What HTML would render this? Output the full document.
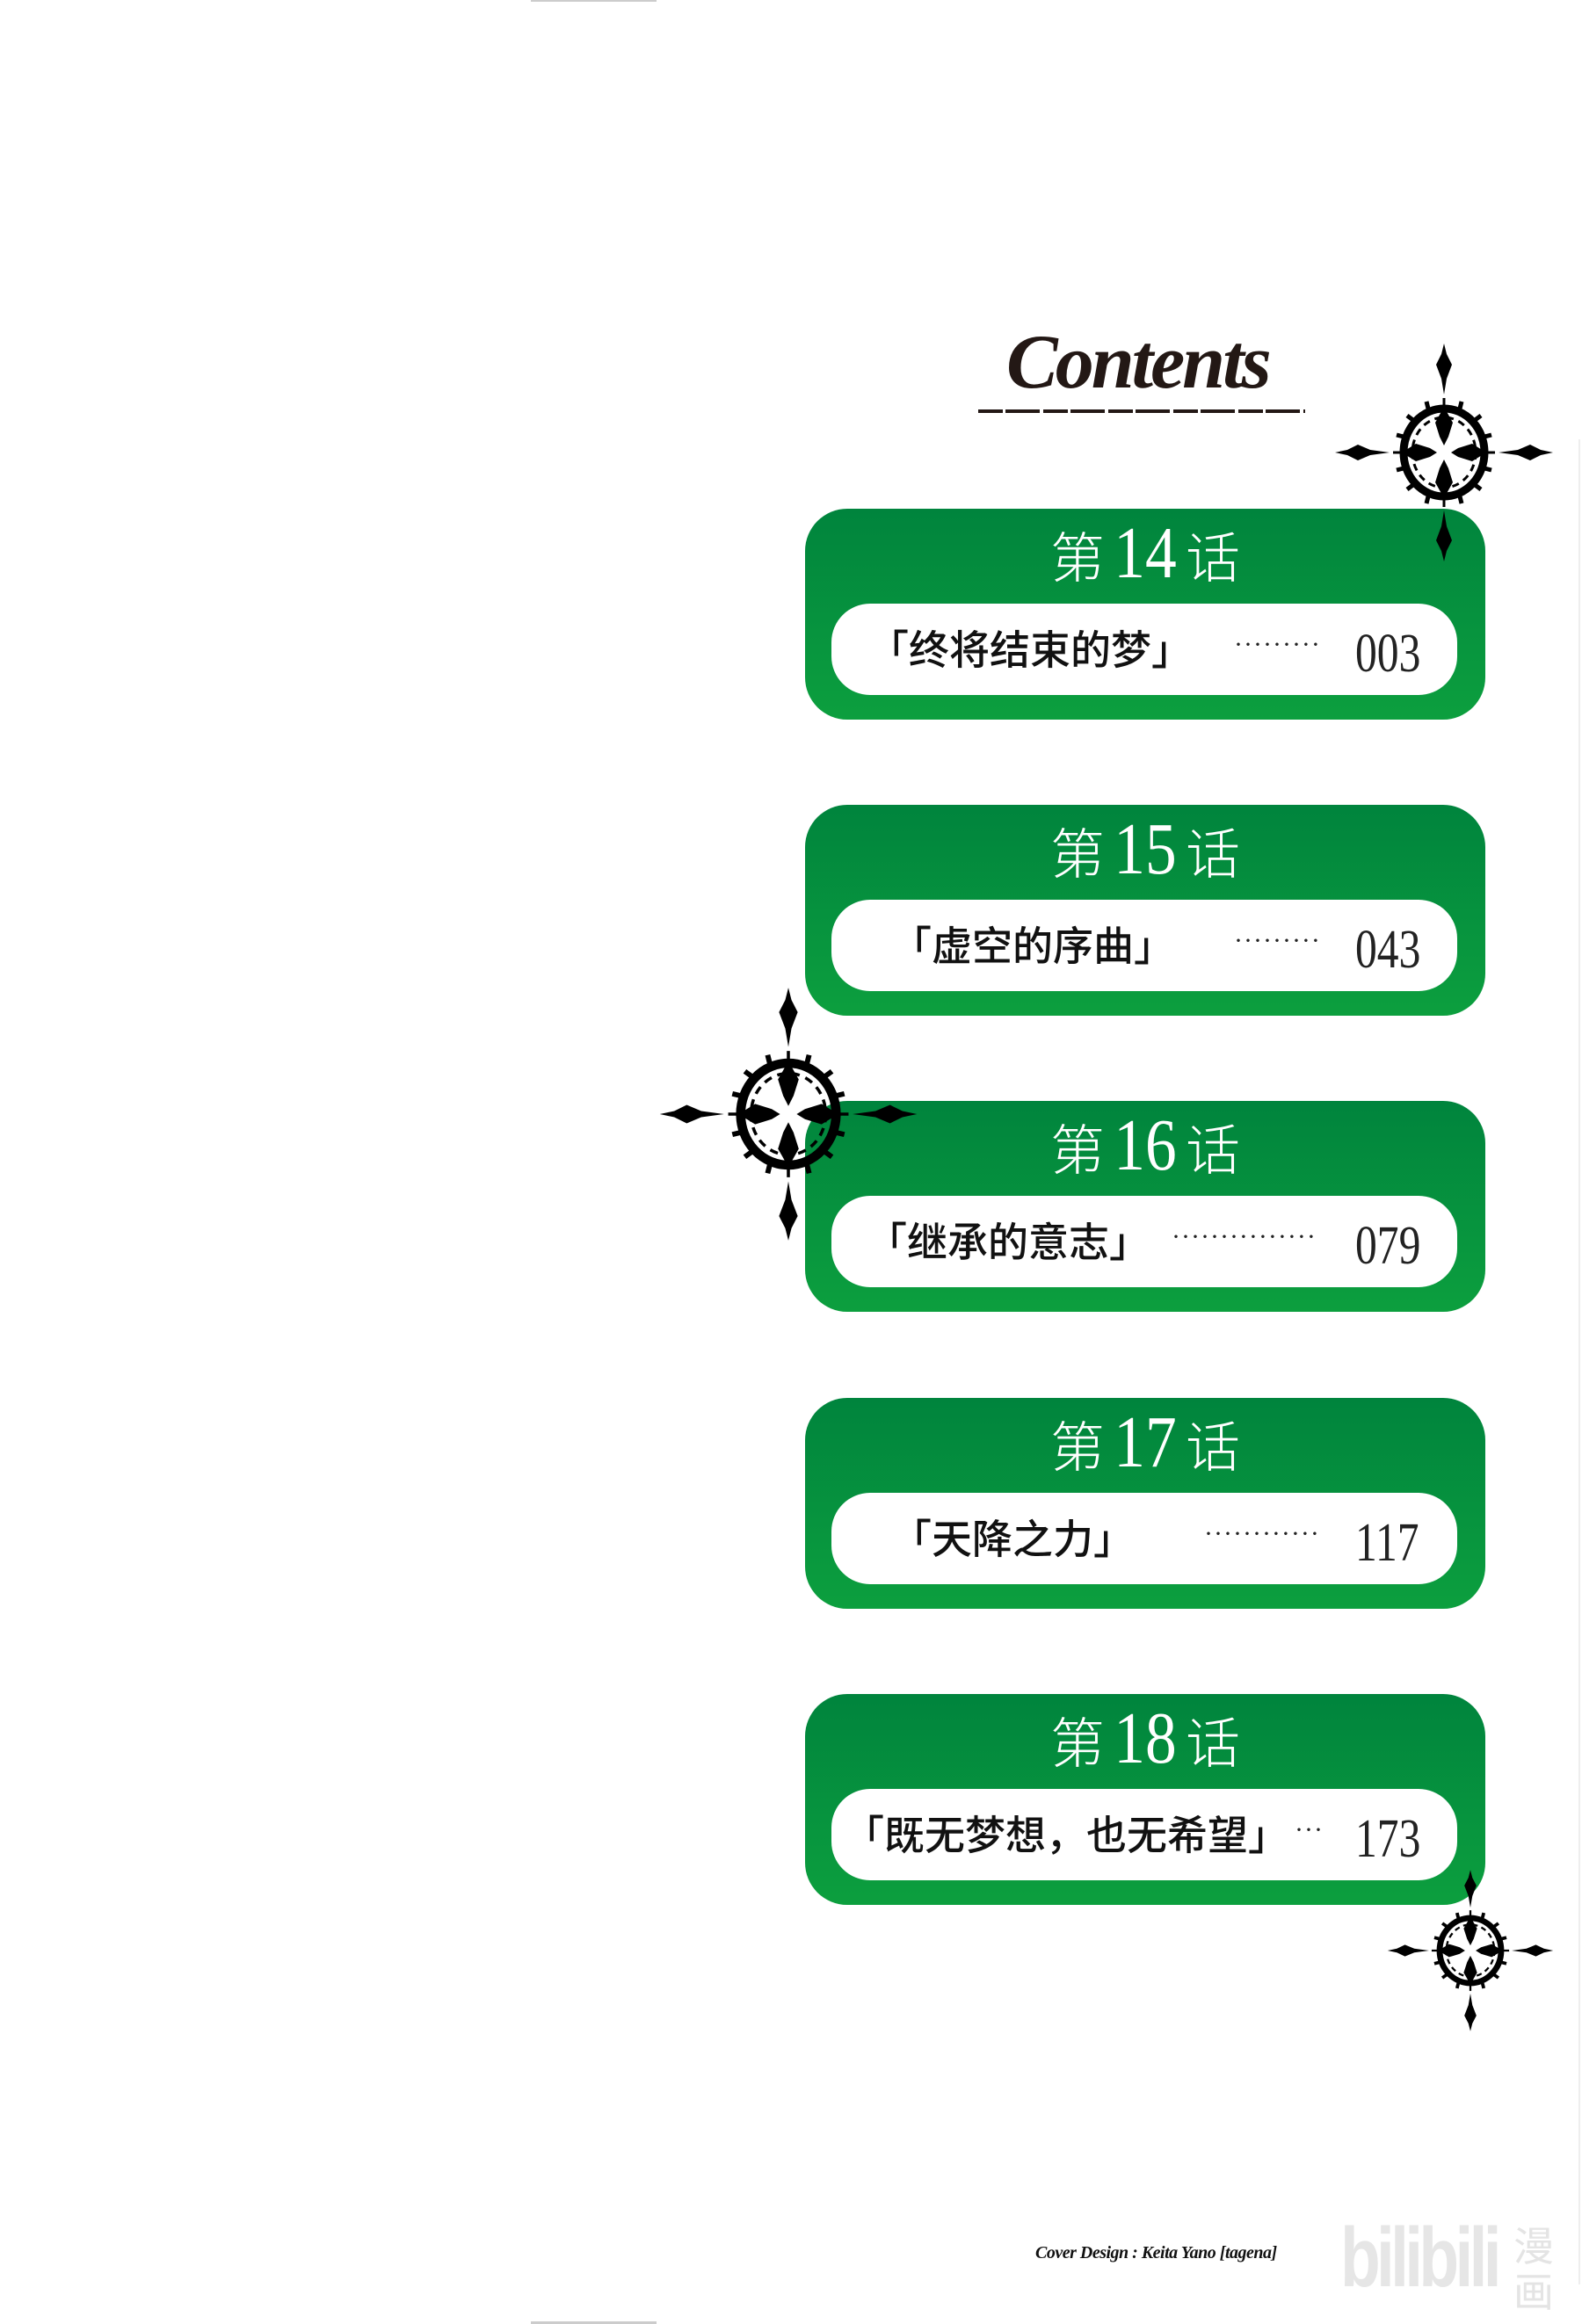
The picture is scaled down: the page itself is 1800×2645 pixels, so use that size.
<!DOCTYPE html>
<html><head><meta charset="utf-8">
<style>
html,body{margin:0;padding:0;background:#fff;}
body{width:1800px;height:2645px;position:relative;overflow:hidden;font-family:"Liberation Sans","Noto Sans CJK SC",sans-serif;}
.box{position:absolute;left:916px;width:774px;height:240px;border-radius:48px;background:linear-gradient(#00843d,#0c9f3e);}
.title{position:absolute;left:0;width:100%;top:2px;height:90px;text-align:center;color:#fff;white-space:nowrap;}
.title .c{font-family:"Noto Sans CJK SC",sans-serif;font-size:62px;font-weight:300;vertical-align:baseline;}
.title .n{font-family:"Liberation Serif",serif;font-size:84px;display:inline-block;transform:scaleX(0.85);margin:0 4px;}
.pill{position:absolute;left:30px;top:108px;width:712px;height:104px;border-radius:44px;background:#fff;}
.t{position:absolute;top:20px;font-family:"Noto Sans CJK SC",sans-serif;font-size:46px;font-weight:500;color:#111;white-space:nowrap;line-height:60px;}
.d{position:absolute;top:22px;font-family:"Liberation Serif",serif;font-size:30px;color:#222;letter-spacing:1px;white-space:nowrap;line-height:50px;}
.p{position:absolute;left:596px;top:22px;font-family:"Liberation Serif",serif;font-size:62px;color:#222;line-height:70px;display:inline-block;transform:scaleX(0.8);transform-origin:left;}
</style></head><body>
<div style="position:absolute;left:604px;top:0;width:143px;height:2px;background:#ccc"></div>
<div style="position:absolute;left:604px;top:2642px;width:143px;height:3px;background:#ccc"></div>
<div style="position:absolute;left:1796px;top:500px;width:2px;height:2100px;background:#eee"></div>

<div style="position:absolute;left:1145px;top:362px;font-family:'Liberation Serif',serif;font-style:italic;font-weight:bold;font-size:88px;color:#231815;letter-spacing:-3px;">Contents</div>
<div style="position:absolute;left:1113px;top:466px;width:372px;height:4px;background:repeating-linear-gradient(90deg,#231815 0 28px,#fff 28px 31px,#231815 31px 70px,#fff 70px 74px);"></div>

<div class="box" style="top:579px"><div class="title"><span class="c">第</span><span class="n">14</span><span class="c">话</span></div>
<div class="pill"><span class="t" style="left:42px">「终将结束的梦」</span><span class="d" style="left:458px">·········</span><span class="p">003</span></div></div>

<div class="box" style="top:916px"><div class="title"><span class="c">第</span><span class="n">15</span><span class="c">话</span></div>
<div class="pill"><span class="t" style="left:68px">「虚空的序曲」</span><span class="d" style="left:458px">·········</span><span class="p">043</span></div></div>

<div class="box" style="top:1253px"><div class="title"><span class="c">第</span><span class="n">16</span><span class="c">话</span></div>
<div class="pill"><span class="t" style="left:40px">「继承的意志」</span><span class="d" style="left:387px">···············</span><span class="p">079</span></div></div>

<div class="box" style="top:1591px"><div class="title"><span class="c">第</span><span class="n">17</span><span class="c">话</span></div>
<div class="pill"><span class="t" style="left:68px">「天降之力」</span><span class="d" style="left:424px">············</span><span class="p">117</span></div></div>

<div class="box" style="top:1928px"><div class="title"><span class="c">第</span><span class="n">18</span><span class="c">话</span></div>
<div class="pill"><span class="t" style="left:14px">「既无梦想，也无希望」</span><span class="d" style="left:527px">···</span><span class="p">173</span></div></div>

<svg width="1800" height="2645" style="position:absolute;left:0;top:0" xmlns="http://www.w3.org/2000/svg">
<defs>
<g id="orn">
<ellipse cx="0" cy="0" rx="46" ry="50" fill="none" stroke="#000" stroke-width="9"/>
<ellipse cx="0" cy="0" rx="36" ry="40" fill="none" stroke="#000" stroke-width="3" stroke-dasharray="8 6"/>
<path d="M0 -52 L10 -34 L5 -18 L0 -8 L-5 -18 L-10 -34 Z" fill="#000"/>
<path d="M0 52 L10 34 L5 18 L0 8 L-5 18 L-10 34 Z" fill="#000"/>
<path d="M-48 0 L-32 10 L-16 5 L-8 0 L-16 -5 L-32 -10 Z" fill="#000"/>
<path d="M48 0 L32 10 L16 5 L8 0 L16 -5 L32 -10 Z" fill="#000"/>
<path d="M-34 -36 l-8 -6 M34 -36 l8 -6 M-34 36 l-8 6 M34 36 l8 6 M-46 -18 l-8 -2 M46 -18 l8 -2 M-46 18 l-8 2 M46 18 l8 2 M-18 -50 l-2 -8 M18 -50 l2 -8 M-18 50 l-2 8 M18 50 l2 8" stroke="#000" stroke-width="5"/>
<path d="M0 -50 L0 -62 M0 50 L0 62 M-50 0 L-58 0 M50 0 L58 0" stroke="#000" stroke-width="3"/>
<path d="M62 0 L84 -3 L98 -9 L110 -3 L124 0 L110 3 L98 9 L84 3 Z" fill="#000"/>
<path d="M-62 0 L-84 -3 L-98 -9 L-110 -3 L-124 0 L-110 3 L-98 9 L-84 3 Z" fill="#000"/>
<path d="M0 66 L-3 84 L-9 100 L-3 112 L0 124 L3 112 L9 100 L3 84 Z" fill="#000"/>
<path d="M0 -66 L-3 -84 L-9 -100 L-3 -112 L0 -124 L3 -112 L9 -100 L3 -84 Z" fill="#000"/>
</g>
</defs>
<use href="#orn" transform="translate(1643,515)"/>
<use href="#orn" transform="translate(897,1268) scale(1.18,1.16)"/>
<use href="#orn" transform="translate(1673,2220) scale(0.76,0.74)"/>
</svg>

<div style="position:absolute;left:1178px;top:2553px;font-family:'Liberation Serif',serif;font-style:italic;font-weight:bold;font-size:20px;color:#111;white-space:nowrap;letter-spacing:-0.5px;">Cover Design : Keita Yano [tagena]</div>
<div style="position:absolute;left:1525px;top:2515px;font-family:'Liberation Sans',sans-serif;font-weight:bold;font-size:96px;color:#e6e6e6;letter-spacing:-6px;white-space:nowrap;transform:scaleX(0.78);transform-origin:left;">bilibili</div>
<div style="position:absolute;left:1722px;top:2528px;width:50px;font-family:'Noto Sans CJK SC',sans-serif;font-size:46px;line-height:52px;color:#e4e4e4;">漫画</div>
</body></html>
